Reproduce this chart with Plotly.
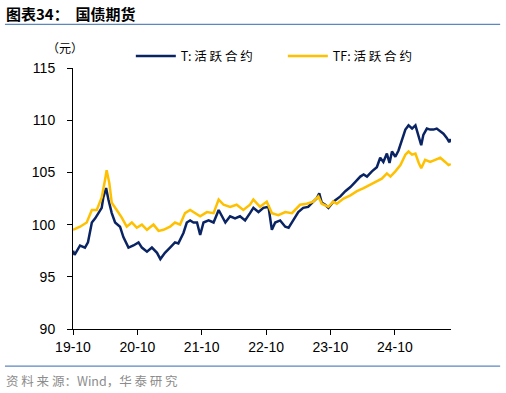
import plotly.graph_objects as go

# ---- data ----
t_dates = ["2019-10-01","2019-10-10","2019-11-10","2019-12-08","2019-12-25","2020-01-16","2020-02-04",
           "2020-02-22","2020-03-12","2020-03-21","2020-04-06","2020-04-19","2020-05-08","2020-05-27",
           "2020-06-24","2020-07-13","2020-08-11","2020-09-08","2020-10-07","2020-10-26","2020-11-24",
           "2020-12-22","2021-01-20","2021-02-08","2021-03-06","2021-04-04","2021-05-02","2021-05-21",
           "2021-06-19","2021-07-08","2021-07-27","2021-08-15","2021-09-04","2021-09-22","2021-10-11",
           "2021-11-09","2021-12-07","2022-01-05","2022-01-24","2022-02-12","2022-03-11","2022-04-08",
           "2022-05-06","2022-06-04","2022-07-02","2022-07-21","2022-08-19","2022-09-16","2022-10-15",
           "2022-11-03","2022-11-22","2022-12-20","2023-01-18","2023-02-06","2023-03-04","2023-04-02",
           "2023-04-30","2023-05-28","2023-06-26","2023-07-15","2023-07-30","2023-08-13","2023-09-02",
           "2023-09-20","2023-10-18","2023-11-27","2023-12-25","2024-01-23","2024-02-20","2024-03-19",
           "2024-04-07","2024-04-26","2024-05-24","2024-06-21","2024-07-10","2024-07-28","2024-08-17",
           "2024-09-01","2024-09-15","2024-10-04","2024-10-22","2024-11-11","2024-11-30","2024-12-18",
           "2025-01-07","2025-01-26","2025-02-14","2025-02-28","2025-03-12","2025-04-01","2025-04-20",
           "2025-05-08","2025-05-27","2025-06-16","2025-07-04","2025-07-23","2025-08-06","2025-08-15"]
t_values = [97.5, 97.1, 98.0, 97.8, 98.3, 100.2, 100.6,
            101.1, 101.6, 102.6, 103.5, 102.4, 101.1, 100.2,
            99.8, 98.8, 97.8, 98.0, 98.3, 97.8, 97.4,
            97.8, 97.3, 96.7, 97.3, 97.8, 98.3, 98.2,
            99.2, 100.2, 100.4, 100.2, 100.2, 99.0, 100.2,
            100.4, 100.2, 101.4, 100.8, 100.2, 100.8, 100.6,
            100.8, 100.4, 101.1, 101.6, 101.2, 101.6, 101.7,
            99.5, 100.2, 100.4, 99.8, 99.7, 100.4, 101.2,
            101.6, 101.7, 102.2, 102.5, 103.0, 102.1, 101.9,
            101.6, 102.2, 102.7, 103.2, 103.6, 104.1, 104.6,
            104.8, 104.6, 105.1, 105.5, 106.4, 106.0, 106.8,
            105.9, 107.0, 106.5, 107.1, 108.1, 109.1, 109.5,
            109.2, 109.5, 108.3, 107.6, 108.6, 109.2, 109.1,
            109.1, 109.2, 108.9, 108.7, 108.3, 107.9, 108.2]

tf_dates = ["2019-10-01","2019-11-10","2019-12-18","2020-01-16","2020-02-13","2020-03-12","2020-03-31",
            "2020-04-09","2020-04-24","2020-05-08","2020-06-05","2020-07-03","2020-08-01","2020-08-30",
            "2020-09-27","2020-10-26","2020-11-24","2020-12-31","2021-01-29","2021-02-26","2021-04-04",
            "2021-05-02","2021-05-31","2021-06-28","2021-07-27","2021-08-24","2021-09-22","2021-10-30",
            "2021-12-07","2022-01-05","2022-02-02","2022-03-11","2022-04-17","2022-05-25","2022-07-02",
            "2022-07-21","2022-08-28","2022-10-05","2022-11-03","2022-12-10","2023-01-18","2023-02-25",
            "2023-04-12","2023-05-20","2023-06-26","2023-07-25","2023-08-13","2023-09-20","2023-10-18",
            "2023-11-07","2023-12-15","2024-01-23","2024-02-29","2024-04-07","2024-05-14","2024-06-21",
            "2024-07-19","2024-08-17","2024-09-06","2024-10-04","2024-11-02","2024-11-30","2024-12-18",
            "2025-01-07","2025-01-26","2025-02-14","2025-02-28","2025-03-22","2025-04-20","2025-05-18",
            "2025-06-16","2025-07-14","2025-08-02","2025-08-15"]
tf_values = [99.5, 99.8, 100.2, 101.4, 101.4, 102.6, 104.3,
             105.2, 104.0, 102.1, 101.4, 100.7, 99.8, 100.2,
             99.7, 100.0, 99.5, 100.0, 99.4, 99.5, 99.8,
             100.2, 100.0, 101.1, 101.4, 101.1, 100.8, 101.2,
             101.1, 102.4, 101.9, 101.7, 101.9, 101.4, 101.9,
             102.4, 101.7, 102.2, 101.1, 100.9, 101.2, 101.1,
             101.9, 102.0, 102.2, 102.7, 102.0, 101.7, 102.2,
             102.0, 102.5, 102.8, 103.2, 103.5, 103.8, 104.1,
             104.4, 104.9, 104.6, 105.1, 105.7, 106.7, 107.0,
             106.7, 106.8, 105.9, 105.4, 106.2, 106.0, 106.2,
             106.4, 106.0, 105.7, 105.8]

series_names = ["T: 活 跃 合 约", "TF: 活 跃 合 约"]
tick_vals = ["2019-10-01", "2020-10-01", "2021-10-01", "2022-10-01", "2023-10-01", "2024-10-01"]
tick_text = ["19-10", "20-10", "21-10", "22-10", "23-10", "24-10"]
y_ticks = [90, 95, 100, 105, 110, 115]

NAVY = "#0A2463"
GOLD = "#FFC000"
CJK = "Noto Sans CJK SC"
LAT = "Liberation Sans, Arial"

fig = go.Figure()
fig.add_trace(go.Scatter(x=t_dates, y=t_values, mode="lines", name=series_names[0],
                         line=dict(color=NAVY, width=2.5)))
fig.add_trace(go.Scatter(x=tf_dates, y=tf_values, mode="lines", name=series_names[1],
                         line=dict(color=GOLD, width=2.5)))

fig.update_layout(
    width=506, height=393,
    margin=dict(l=73, r=55, t=68, b=64),
    paper_bgcolor="white", plot_bgcolor="white",
    showlegend=True,
    legend=dict(orientation="h", x=0.153, y=1.045, xanchor="left", yanchor="middle",
                font=dict(family=CJK, size=12.5, color="#000000"),
                entrywidth=97, entrywidthmode="pixels", itemwidth=40,
                bgcolor="rgba(0,0,0,0)", traceorder="normal"),
    xaxis=dict(type="date", range=["2019-10-01", "2025-08-16"],
               tickmode="array", tickvals=tick_vals, ticktext=tick_text,
               showgrid=False, zeroline=False, showline=True, linecolor="black", linewidth=1,
               ticks="outside", ticklen=5, tickcolor="black",
               tickfont=dict(family=LAT, size=14, color="black")),
    yaxis=dict(range=[90, 115], tickvals=y_ticks,
               showgrid=False, zeroline=False, showline=True, linecolor="black", linewidth=1,
               ticks="outside", ticklen=5, tickcolor="black", ticklabelstandoff=9,
               tickfont=dict(family=LAT, size=14, color="black")),
)

# header / footer rules
fig.add_shape(type="line", xref="paper", yref="paper", x0=-0.180, x1=1.130, y0=1.167, y1=1.167,
              line=dict(color="#5B87BF", width=1.2))
fig.add_shape(type="line", xref="paper", yref="paper", x0=-0.180, x1=1.130, y0=-0.142, y1=-0.142,
              line=dict(color="#5B87BF", width=1.2))

fig.add_annotation(xref="paper", yref="paper", x=-0.183, y=1.209, xanchor="left", yanchor="middle",
                   text="<b>图表34：  国债期货</b>", showarrow=False,
                   font=dict(family=CJK, size=15, color="black"))
fig.add_annotation(xref="paper", yref="paper", x=-0.021, y=1.078, xanchor="center", yanchor="middle",
                   text="（元）", showarrow=False,
                   font=dict(family=CJK, size=12, color="black"))
fig.add_annotation(xref="paper", yref="paper", x=-0.183, y=-0.197, xanchor="left", yanchor="middle",
                   text="资 料 来 源：Wind，华 泰 研 究", showarrow=False,
                   font=dict(family=CJK, size=12.5, color="#8C8C8C"))

fig.write_html("out.html", config={"displayModeBar": False},
               post_script="document.body.style.margin='0';")
